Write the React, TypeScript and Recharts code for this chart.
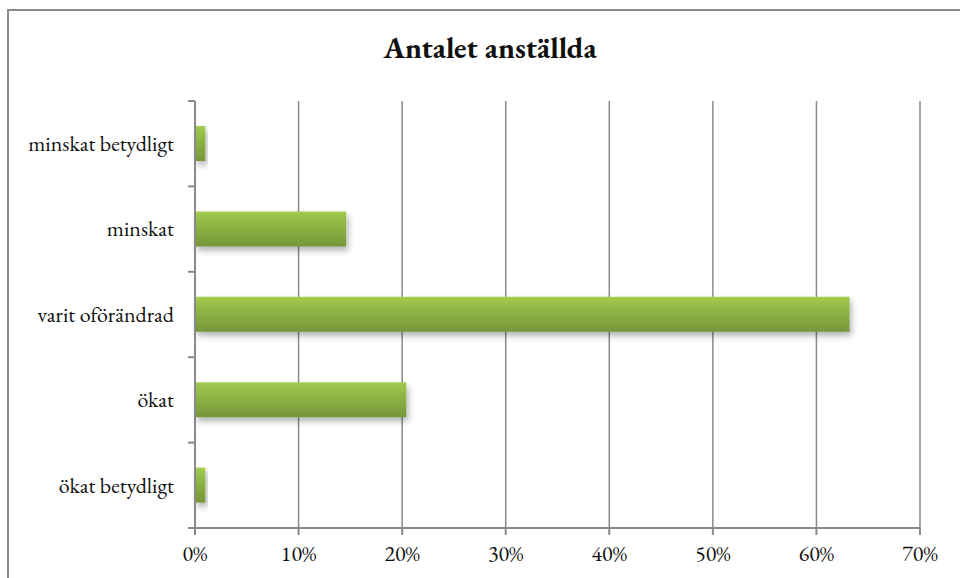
import React from 'react';
import { BarChart, Bar, XAxis, YAxis, CartesianGrid } from 'recharts';

const title = 'Antalet anställda';
const categories = ['minskat betydligt', 'minskat', 'varit oförändrad', 'ökat', 'ökat betydligt'];
const shares = [0.01, 0.146, 0.632, 0.204, 0.01];
const xTicks = [0, 0.1, 0.2, 0.3, 0.4, 0.5, 0.6, 0.7];

const data = categories.map((c, i) => ({ category: c, value: shares[i] }));

const W = 960;
const H = 578;
const X_AXIS_H = 30;
const MARGIN = { top: 101, right: 40, bottom: 50 - X_AXIS_H, left: 0 };
const Y_AXIS_W = 195;
const BAND = (H - MARGIN.top - MARGIN.bottom - X_AXIS_H) / categories.length;
const FONT = '"EB Garamond", "Liberation Serif", monospace';
const AXIS_COLOR = '#8a8a8a';

const YTick = (props: any) => {
  const { x, y, payload, index } = props;
  return (
    <g>
      <text x={x - 21} y={y} dy="0.33em" textAnchor="end" fontFamily={FONT} fontSize={22} fill="#111">
        {payload.value}
      </text>
      <line x1={x - 7} x2={x} y1={y + BAND / 2} y2={y + BAND / 2} stroke={AXIS_COLOR} strokeWidth={2} />
      {index === 0 && (
        <line x1={x - 7} x2={x} y1={y - BAND / 2} y2={y - BAND / 2} stroke={AXIS_COLOR} strokeWidth={2} />
      )}
    </g>
  );
};

export default function App() {
  return (
    <div style={{ position: 'absolute', left: 0, top: 0, width: W, height: H, overflow: 'hidden', background: '#fff' }}>
      <div
        style={{
          position: 'absolute',
          left: 7,
          top: 9,
          width: 1200,
          height: 1200,
          borderTop: `2px solid ${AXIS_COLOR}`,
          borderLeft: `2px solid ${AXIS_COLOR}`,
        }}
      />
      <div
        style={{
          position: 'absolute',
          left: 0,
          width: 980,
          top: 30,
          textAlign: 'center',
          fontFamily: FONT,
          fontWeight: 'bold',
          fontSize: 30,
          lineHeight: '36px',
          color: '#111',
        }}
      >
        {title}
      </div>
      <div style={{ position: 'absolute', left: 0, top: 0 }}>
        <BarChart width={W} height={H} data={data} layout="vertical" margin={MARGIN} barSize={35}>
          <defs>
            <linearGradient id="barGrad" x1="0" y1="0" x2="0" y2="1">
              <stop offset="0" stopColor="#a6cd55" />
              <stop offset="0.08" stopColor="#9dc64b" />
              <stop offset="1" stopColor="#75963a" />
            </linearGradient>
            <filter id="barShadow" x="-20%" y="-30%" width="140%" height="180%">
              <feDropShadow dx="2" dy="4" stdDeviation="3" floodColor="#000" floodOpacity="0.3" />
            </filter>
          </defs>
          <CartesianGrid horizontal={false} stroke={AXIS_COLOR} strokeWidth={1.5} />
          <XAxis
            type="number"
            domain={[0, 0.7]}
            ticks={xTicks}
            interval={0}
            height={X_AXIS_H}
            tickFormatter={(v: number) => `${Math.round(v * 100)}%`}
            axisLine={{ stroke: AXIS_COLOR, strokeWidth: 2 }}
            tickLine={{ stroke: AXIS_COLOR, strokeWidth: 2 }}
            tickSize={7}
            tickMargin={10}
            tick={{ fontFamily: FONT, fontSize: 22, fill: '#111' }}
          />
          <YAxis
            type="category"
            dataKey="category"
            width={Y_AXIS_W}
            axisLine={{ stroke: AXIS_COLOR, strokeWidth: 2 }}
            tickLine={false}
            tickSize={0}
            tickMargin={0}
            tick={<YTick />}
            interval={0}
          />
          <Bar dataKey="value" fill="url(#barGrad)" filter="url(#barShadow)" isAnimationActive={false} />
        </BarChart>
      </div>
    </div>
  );
}
